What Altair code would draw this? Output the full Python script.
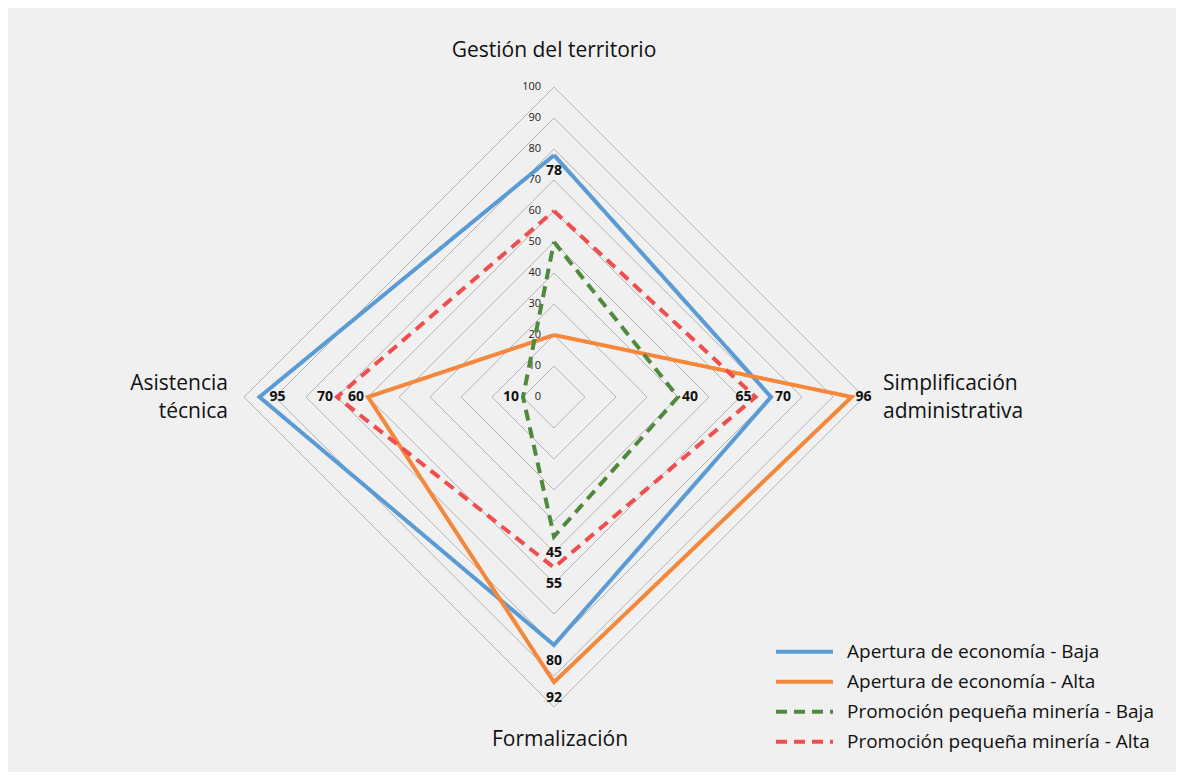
import math
import altair as alt
import pandas as pd

# ---------------- data ----------------
categories = ["Gestión del territorio", "Simplificación administrativa",
              "Formalización", "Asistencia técnica"]
category_text = ["Gestión del territorio", "Simplificación\nadministrativa",
                 "Formalización", "Asistencia\ntécnica"]
series = ["Apertura de economía - Baja", "Apertura de economía - Alta",
          "Promoción pequeña minería - Baja", "Promoción pequeña minería - Alta"]
values_apertura_baja = [78, 70, 80, 95]
values_apertura_alta = [20, 96, 92, 60]
values_promocion_baja = [50, 40, 45, 10]
values_promocion_alta = [60, 65, 55, 70]
series_values = [values_apertura_baja, values_apertura_alta,
                 values_promocion_baja, values_promocion_alta]
grid_levels = [10, 20, 30, 40, 50, 60, 70, 80, 90, 100]
tick_labels = [0, 10, 20, 30, 40, 50, 60, 70, 80, 90, 100]
# data labels shown: (series index, category index, placement)
data_labels = [(0, 0, "below"),
               (2, 1, "right"), (3, 1, "left"), (0, 1, "right"), (1, 1, "right"),
               (2, 2, "below"), (3, 2, "below"), (0, 2, "below"), (1, 2, "below"),
               (0, 3, "inside"), (3, 3, "left"), (1, 3, "left"), (2, 3, "left")]

# ---------------- styles ----------------
colors = ["#5a9bd5", "#f5873a", "#4f8a3c", "#f04e4e"]
dashes = [[1, 0], [1, 0], [11, 7], [11, 7]]
FONT = "Open Sans"
W, H = 1168, 764
CX, CY = 546, 389          # centre of the radar inside the chart
PX = 3.1                   # pixels per unit


def polar(v, i):
    a = math.radians(90 * i)
    return round(v * math.sin(a), 6), round(v * math.cos(a), 6)


rows = []
for s, vals in zip(series, series_values):
    for k in range(len(categories) + 1):
        i = k % len(categories)
        x, y = polar(vals[i], i)
        rows.append({"series": s, "order": k, "cat": categories[i],
                     "value": vals[i], "x": x, "y": y})
df_series = pd.DataFrame(rows)

grid_rows = []
for lv in grid_levels:
    for k in range(len(categories) + 1):
        i = k % len(categories)
        x, y = polar(lv, i)
        grid_rows.append({"level": lv, "order": k, "x": x, "y": y})
df_grid = pd.DataFrame(grid_rows)

df_ticks = pd.DataFrame({"t": tick_labels, "x": [0] * len(tick_labels),
                         "y": tick_labels})

lab_rows = []
for si, ci, place in data_labels:
    v = series_values[si][ci]
    x, y = polar(v, ci)
    lab_rows.append({"label": str(v), "x": x, "y": y, "place": place})
df_labels = pd.DataFrame(lab_rows)

cat_rows = []
for i, (c, t) in enumerate(zip(categories, category_text)):
    x, y = polar(100, i)
    cat_rows.append({"cat": c, "text": t, "idx": i, "x": x, "y": y})
df_cats = pd.DataFrame(cat_rows)

xs = alt.Scale(domain=[-CX / PX, (W - CX) / PX], nice=False, zero=False)
ys = alt.Scale(domain=[-(H - CY) / PX, CY / PX], nice=False, zero=False)
X = alt.X("x:Q", scale=xs, axis=None)
Y = alt.Y("y:Q", scale=ys, axis=None)

grid = alt.Chart(df_grid).mark_line(color="#b5b5b5", strokeWidth=1).encode(
    x=X, y=Y, detail="level:N", order="order:Q")

ticks = alt.Chart(df_ticks).mark_text(
    align="right", baseline="middle", dx=-13, font=FONT, fontSize=11,
    color="#222222").encode(x=X, y=Y, text="t:Q")

lines = alt.Chart(df_series).mark_line(strokeWidth=4, strokeJoin="miter").encode(
    x=X, y=Y, order="order:Q",
    color=alt.Color("series:N", scale=alt.Scale(domain=series, range=colors),
                    title=None),
    strokeDash=alt.StrokeDash("series:N", scale=alt.Scale(domain=series, range=dashes),
                              title=None),
)

lab_base = alt.Chart(df_labels)
lab_style = dict(font=FONT, fontSize=14, fontWeight="bold", color="#111111")
lab_below = lab_base.transform_filter("datum.place == 'below'").mark_text(
    align="center", baseline="middle", dy=16, **lab_style).encode(x=X, y=Y, text="label:N")
lab_right = lab_base.transform_filter("datum.place == 'right'").mark_text(
    align="left", baseline="middle", dx=4, **lab_style).encode(x=X, y=Y, text="label:N")
lab_inside = lab_base.transform_filter("datum.place == 'inside'").mark_text(
    align="left", baseline="middle", dx=10, **lab_style).encode(x=X, y=Y, text="label:N")
lab_left = lab_base.transform_filter("datum.place == 'left'").mark_text(
    align="right", baseline="middle", dx=-4, **lab_style).encode(x=X, y=Y, text="label:N")

cat_style = dict(font=FONT, fontSize=21, color="#111111", lineBreak="\n", lineHeight=28)
cb = alt.Chart(df_cats)
cat_top = cb.transform_filter("datum.idx == 0").mark_text(
    align="center", baseline="middle", dy=-36, **cat_style).encode(x=X, y=Y, text="text:N")
cat_right = cb.transform_filter("datum.idx == 1").mark_text(
    align="left", baseline="middle", dx=19, dy=-13, **cat_style).encode(x=X, y=Y, text="text:N")
cat_bottom = cb.transform_filter("datum.idx == 2").mark_text(
    align="center", baseline="middle", dy=33, dx=6, **cat_style).encode(x=X, y=Y, text="text:N")
cat_left = cb.transform_filter("datum.idx == 3").mark_text(
    align="right", baseline="middle", dx=-16, dy=-13, **cat_style).encode(x=X, y=Y, text="text:N")

chart = alt.layer(grid, ticks, lines, lab_below, lab_right, lab_inside, lab_left,
                  cat_top, cat_right, cat_bottom, cat_left).properties(
    width=W, height=H, background="#f0f0f0", padding=0,
    autosize=alt.AutoSizeParams(type="none"),
).configure_view(stroke=None).configure_legend(
    orient="none", legendX=766, legendY=629, padding=0,
    symbolType="stroke", symbolSize=3249, symbolStrokeWidth=4,
    clipHeight=29.5, rowPadding=0, labelOffset=12,
    labelFont=FONT, labelFontSize=19, labelColor="#111111", labelLimit=500,
)

chart.save("out.html", embed_options={"renderer": "svg", "actions": False})
